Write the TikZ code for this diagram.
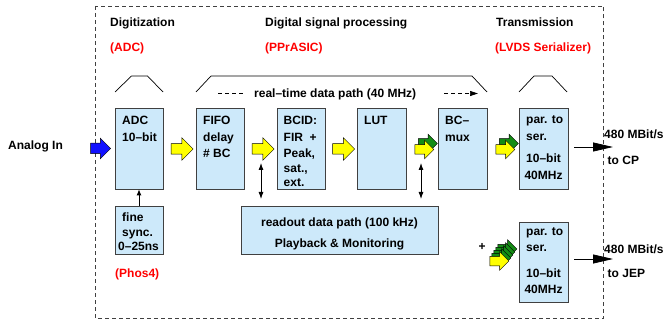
\documentclass[tikz,border=0pt]{standalone}
\usepackage{fontspec}
\setmainfont{Liberation Sans}
\usetikzlibrary{shapes.arrows,arrows.meta,calc}
\definecolor{boxblue}{HTML}{CDE9FA}
\definecolor{arrblue}{HTML}{1010FF}
\definecolor{arryellow}{HTML}{FFFF00}
\definecolor{arrgreen}{HTML}{148C14}
\definecolor{framegray}{HTML}{404040}
\newcommand{\mlines}[1]{\begin{tabular}[t]{@{}l@{}}#1\end{tabular}}
\newcommand{\clines}[1]{\begin{tabular}[t]{@{}c@{}}#1\end{tabular}}
\tikzset{
  txt/.style={anchor=base west, inner sep=0pt},
  ctxt/.style={anchor=base, inner sep=0pt},
  redtxt/.style={txt, text=red},
  blk/.style={draw=framegray, fill=boxblue, line width=0.8pt, inner sep=0pt},
  bigarrow/.style={single arrow, draw=black, line width=0.5pt, inner sep=0pt,
    inner ysep=5pt, minimum height=22pt, minimum width=22pt, single arrow head extend=6pt},
  smallarrow/.style={single arrow, draw=black, line width=0.5pt, inner sep=0pt,
    inner ysep=4.5pt, minimum height=19pt, minimum width=18pt, single arrow head extend=4.5pt},
  bracketline/.style={draw=black, line width=0.7pt},
  rtdash/.style={draw=black, line width=0.7pt, dash pattern=on 4pt off 3pt},
  dblarrow/.style={draw=black, line width=0.8pt, {Latex[length=7pt,width=5pt]}-{Latex[length=7pt,width=5pt]}},
  uparrow/.style={draw=black, line width=0.8pt, -{Latex[length=6pt,width=5pt]}},
  outarrow/.style={draw=black, line width=0.8pt, -{Triangle[length=20pt,width=9pt]}},
}
\begin{document}
\begin{tikzpicture}[x=1pt,y=-1pt,font=\fontsize{12}{16.5}\selectfont\bfseries]
\useasboundingbox (0,0) rectangle (663,320);

% frame
\draw[draw=framegray, line width=0.8pt, dash pattern=on 4pt off 3pt] (95.5,6) rectangle (603,318.5);

% headings
\node[txt] (h1) at (110,26.5) {Digitization};
\node[txt] (h2) at (265,26.5) {Digital signal processing};
\node[txt] (h3) at (496,26.5) {Transmission};
\node[redtxt] (r1) at (110,51.5) {(ADC)};
\node[redtxt] (r2) at (265,51.5) {(PPrASIC)};
\node[redtxt] (r3) at (495,51.5) {(LVDS Serializer)};
\node[redtxt] (r4) at (115,277) {(Phos4)};

% brackets
\draw[bracketline] (115,92) -- (131.5,76) -- (147.5,76) -- (163,92);
\draw[bracketline] (196,92) -- (211,76) -- (472,76) -- (487,92);
\draw[bracketline] (519,92) -- (534,76) -- (552,76) -- (567,92);

% real-time data path
\coordinate (rt1) at (218,93.5);
\coordinate (rt2) at (245,93.5);
\coordinate (rt3) at (444,93.5);
\coordinate (rt4) at (478,93.5);
\draw[rtdash] (rt1) -- (rt2);
\draw[rtdash, -{Triangle[length=8pt,width=5pt]}] (rt3) -- (rt4);
\node[txt] (rtlabel) at (254,98) {real–time data path (40 MHz)};

% boxes
\node[blk, minimum width=48pt, minimum height=81pt] (adc) at (139,148.5) {};
\node[blk, minimum width=48pt, minimum height=81pt] (fifo) at (220,148.5) {};
\node[blk, minimum width=48pt, minimum height=81pt] (bcid) at (301,148.5) {};
\node[blk, minimum width=49pt, minimum height=81pt] (lut) at (381.5,148.5) {};
\node[blk, minimum width=49pt, minimum height=81pt] (bcmux) at (462.5,148.5) {};
\node[blk, minimum width=49pt, minimum height=81pt] (par1) at (543.5,148.5) {};
\node[blk, minimum width=49pt, minimum height=80pt] (par2) at (543.5,262) {};
\node[blk, minimum width=48pt, minimum height=48pt] (fine) at (139,230) {};
\node[blk, minimum width=197pt, minimum height=48pt] (readout) at (339.5,230) {};

% box texts
\node[txt] (tadc) at (122,125) {\mlines{ADC\\10–bit}};
\node[txt] (tfifo) at (203,125) {\mlines{FIFO\\delay\\\# BC}};
\node[txt] (tbcid) at (283.5,125) {\mlines{BCID:\\FIR\ \ +\\Peak,\\[-2pt]sat.,\\[-2pt]ext.}};
\node[txt] (tlut) at (364,125) {LUT};
\node[txt] (tbcmux) at (445,125) {\mlines{BC–\\mux}};
\node[txt] (tpar1a) at (526,124) {\mlines{par. to\\ser.}};
\node[ctxt] (tpar1b) at (543.5,163) {\clines{10–bit\\[0.5pt]40MHz}};
\node[txt] (tpar2a) at (526,235) {\mlines{par. to\\ser.}};
\node[ctxt] (tpar2b) at (543.5,277) {\clines{10–bit\\[-0.5pt]40MHz}};
\node[txt] (tfine) at (122,222) {\mlines{fine\\[-2pt]sync.\\[-2pt]\hspace*{-4pt}0–25ns}};
\node[ctxt] (tread) at (339.5,226) {\clines{readout data path (100 kHz)\\[4.5pt]Playback \& Monitoring}};

% input
\node[txt] (analog) at (8,150) {Analog In};
\node[bigarrow, fill=arrblue, minimum height=20pt, minimum width=20pt, single arrow head extend=5pt] (ain) at (98,148.5) {};

% block arrows between stages
\node[bigarrow, fill=arryellow] (a1) at ($(adc.east)!.5!(fifo.west)+(0,0.5)$) {};
\node[bigarrow, fill=arryellow] (a2) at ($(fifo.east)!.5!(bcid.west)+(0,0.5)$) {};
\node[bigarrow, fill=arryellow] (a3) at ($(bcid.east)!.5!(lut.west)+(0,0.5)$) {};
\node[smallarrow, fill=arrgreen] (a4g) at ($(lut.east)!.5!(bcmux.west)+(3.5,-5)$) {};
\node[smallarrow, fill=arryellow] (a4) at ($(lut.east)!.5!(bcmux.west)+(0,1)$) {};
\node[smallarrow, fill=arrgreen] (a5g) at ($(bcmux.east)!.5!(par1.west)+(3.5,-5)$) {};
\node[smallarrow, fill=arryellow] (a5) at ($(bcmux.east)!.5!(par1.west)+(0,1)$) {};

% stacked arrows into second serializer
\node[smallarrow, fill=arrgreen] (s4) at (505,249) {};
\node[smallarrow, fill=arrgreen] (s3) at (503,252) {};
\node[smallarrow, fill=arrgreen] (s2) at (501,255) {};
\node[smallarrow, fill=arrgreen] (s1) at (499,258) {};
\node[smallarrow, fill=arryellow] (s0) at (497,261) {};
\node[ctxt] (plus) at (482,251) {+};

% fine sync -> ADC
\draw[uparrow] (fine) -- (adc);

% readout links
\coordinate (ra1) at (261,163);
\coordinate (ra2) at (261,199);
\coordinate (rb1) at (421,163);
\coordinate (rb2) at (421,199);
\draw[dblarrow] (ra1) -- (ra2);
\draw[dblarrow] (rb1) -- (rb2);

% outputs
\coordinate (cp) at (613,147);
\coordinate (jep) at (613,259);
\draw[outarrow] ([xshift=6pt,yshift=1.5pt]par1.east) -- (cp);
\draw[outarrow] ([xshift=6pt,yshift=3pt]par2.east) -- (jep);
\node[txt] (o1) at (604,139) {480 MBit/s};
\node[txt] (o2) at (607.5,165) {to CP};
\node[txt] (o3) at (604,253) {480 MBit/s};
\node[txt] (o4) at (607.5,277) {to JEP};
\end{tikzpicture}
\end{document}
